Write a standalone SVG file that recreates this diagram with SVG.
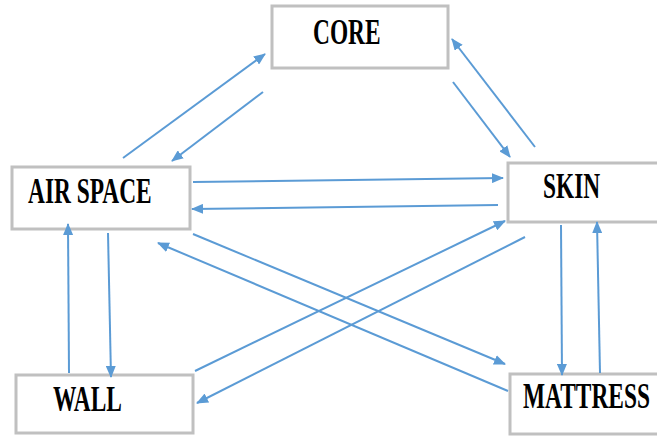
<svg xmlns="http://www.w3.org/2000/svg" width="657" height="436" viewBox="0 0 657 436">
  <style>
    .box { fill: #ffffff; stroke: #c0c0c0; stroke-width: 3; }
    .lbl { font-family: "Liberation Serif", "Times New Roman", serif; font-weight: bold; font-size: 36px; fill: #000000; }
    .edge { stroke: #5b9bd5; stroke-width: 2; fill: none; marker-end: url(#arrow); }
  </style>
  <defs>
    <marker id="arrow" viewBox="0 0 12 10" refX="11" refY="5" markerWidth="12" markerHeight="10" markerUnits="userSpaceOnUse" orient="auto">
      <path d="M0,0 L12,5 L0,10 Z" fill="#5b9bd5"/>
    </marker>
  </defs>
  <rect width="657" height="436" fill="#ffffff"/>

  <g id="core">
    <rect class="box" x="272" y="6" width="176" height="62"/>
    <text class="lbl" transform="translate(313,44) scale(0.65,1)">CORE</text>
  </g>
  <g id="air-space">
    <rect class="box" x="12" y="167" width="178" height="62"/>
    <text class="lbl" transform="translate(28,203) scale(0.65,1)">AIR SPACE</text>
  </g>
  <g id="skin">
    <rect class="box" x="508" y="163" width="160" height="59"/>
    <text class="lbl" transform="translate(543,198) scale(0.65,1)">SKIN</text>
  </g>
  <g id="wall">
    <rect class="box" x="16" y="375" width="177" height="58"/>
    <text class="lbl" transform="translate(53,411) scale(0.65,1)">WALL</text>
  </g>
  <g id="mattress">
    <rect class="box" x="510" y="374" width="160" height="60"/>
    <text class="lbl" transform="translate(523,408) scale(0.65,1)">MATTRESS</text>
  </g>

  <g id="connectors">
    <!-- core / air space -->
    <line class="edge" x1="123" y1="158" x2="265" y2="54"/>
    <line class="edge" x1="263" y1="92" x2="172" y2="161"/>
    <!-- core / skin -->
    <line class="edge" x1="535" y1="147" x2="452" y2="39"/>
    <line class="edge" x1="453" y1="82" x2="510" y2="157"/>
    <!-- air space / skin -->
    <line class="edge" x1="193" y1="182" x2="503" y2="178"/>
    <line class="edge" x1="498" y1="205" x2="192" y2="209"/>
    <!-- air space / wall -->
    <line class="edge" x1="69" y1="373" x2="68" y2="224"/>
    <line class="edge" x1="108" y1="233" x2="111" y2="377"/>
    <!-- skin / mattress -->
    <line class="edge" x1="561" y1="225" x2="562" y2="375"/>
    <line class="edge" x1="600" y1="373" x2="597" y2="222"/>
    <!-- crossing links -->
    <line class="edge" x1="193" y1="234" x2="505" y2="364"/>
    <line class="edge" x1="508" y1="391" x2="158" y2="243"/>
    <line class="edge" x1="195" y1="371" x2="505" y2="221"/>
    <line class="edge" x1="525" y1="237" x2="197" y2="403"/>
  </g>
</svg>
